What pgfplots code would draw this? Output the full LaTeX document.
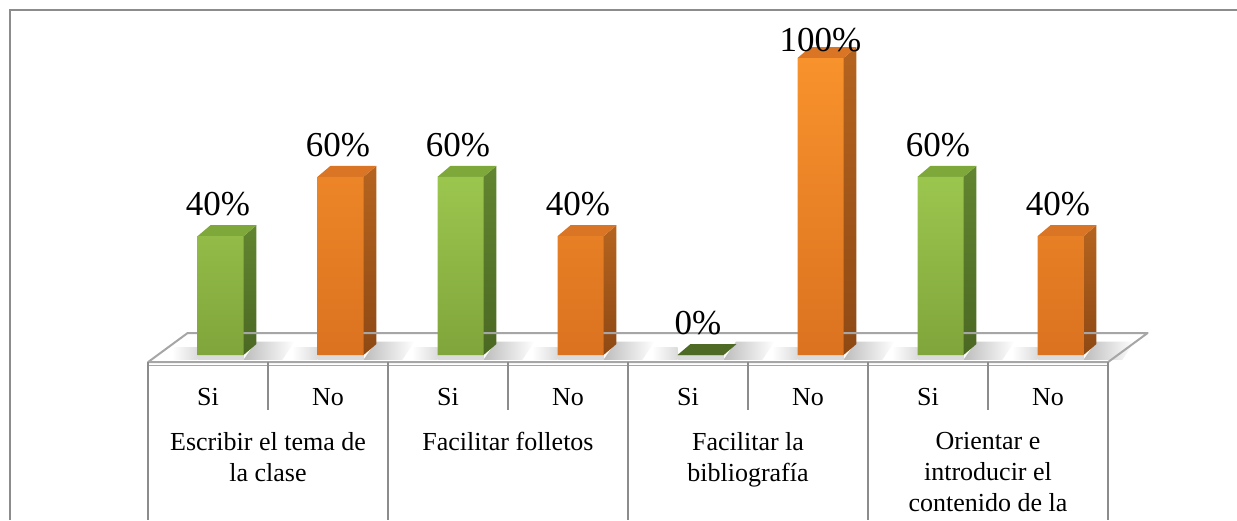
\documentclass[border=0pt]{standalone}
\usepackage{fontspec}
\setmainfont{Liberation Serif}
\usepackage{pgfplots}
\pgfplotsset{compat=1.18}

\definecolor{siFront}{HTML}{9BC64E}
\definecolor{siFrontB}{HTML}{80A53B}
\definecolor{siSide}{HTML}{628530}
\definecolor{siSideB}{HTML}{4B6823}
\definecolor{siTop}{HTML}{7FA83B}
\definecolor{siFlat}{HTML}{4E6A25}
\definecolor{noFront}{HTML}{F8922C}
\definecolor{noFrontB}{HTML}{DB7220}
\definecolor{noSide}{HTML}{B5641F}
\definecolor{noSideB}{HTML}{8E4914}
\definecolor{noTop}{HTML}{D97524}
\definecolor{frameGray}{HTML}{8C8C8C}
\definecolor{floorGray}{HTML}{A6A6A6}

% side, top and floor shadow of one bar: #1 x, #2 value, #3/#4 side colours, #5 top colour
\newcommand\barsides[5]{%
  \pgfmathsetmacro\xa{#1+0.296}%
  \pgfmathsetmacro\xb{#1+0.404}%
  \pgfmathsetmacro\xc{#1-0.0875}%
  \pgfmathsetmacro\xd{#1+0.0205}%
  \pgfmathsetmacro\xe{#1+0.62}%
  \pgfmathsetmacro\xg{#1+0.72}%
  \pgfmathsetmacro\xh{#1+0.40}%
  \pgfmathsetmacro\xf{#1-0.30}%
  \pgfmathsetmacro\ya{#2+3.7}%
  \addplot[draw=none, left color=black!26, right color=white] coordinates {(\xa,-1.6) (\xe,-1.6) (\xg,4.5) (\xh,4.5)} -- cycle;
  \addplot[draw=none, fill=black!14] coordinates {(\xc,-1.6) (\xa,-1.6) (\xa,0) (\xc,0)} -- cycle;
  \addplot[draw=none, left color=white, right color=black!14] coordinates {(\xf,-1.6) (\xc,-1.6) (\xc,2.5) (\xf,2.5)} -- cycle;
  \addplot[draw=none, top color=#3, bottom color=#4] coordinates {(\xa,0) (\xb,3.7) (\xb,\ya) (\xa,#2)} -- cycle;
  \addplot[draw=none, fill=#5] coordinates {(\xc,#2) (\xa,#2) (\xb,\ya) (\xd,\ya)} -- cycle;
}

\begin{document}
\begin{tikzpicture}[x=1pt, y=1pt]
  \useasboundingbox (0,0) rectangle (1237,-520);
  % chart frame (cut at right and bottom)
  \draw[frameGray, line width=2pt] (10,-520) -- (10,-10) -- (1237,-10);

  \begin{axis}[
    at={(148pt,-355pt)}, anchor=south west,
    scale only axis, width=960pt, height=297pt,
    xmin=-0.5, xmax=7.5, ymin=0, ymax=100,
    clip=false,
    axis line style={draw=none}, tick style={draw=none},
    ytick=\empty,
    xtick={0,...,7},
    xticklabels={Si,No,Si,No,Si,No,Si,No},
    xticklabel style={font=\fontsize{26}{31}\selectfont, anchor=base, yshift=-50pt},
    /pgf/number format/assume math mode=true,
    visualization depends on={y \as \rawy},
    every node near coord/.append style={font=\fontsize{35}{40}\selectfont,
      text=black, inner sep=0pt,
      xshift={ifthenelse(\rawy>99,12.5,10)},
      yshift={ifthenelse(\rawy>99,6,20)}},
  ]
    % floor
    \fill[white] (axis cs:-0.5,-2.4) -- (axis cs:7.5,-2.4) -- (axis cs:7.83,7.4) -- (axis cs:-0.17,7.4) -- cycle;

    % depth of the bars and their shadows
    \barsides{0}{40}{siSide}{siSideB}{siTop}
    \barsides{1}{60}{noSide}{noSideB}{noTop}
    \barsides{2}{60}{siSide}{siSideB}{siTop}
    \barsides{3}{40}{noSide}{noSideB}{noTop}
    \barsides{4}{0}{siSide}{siSideB}{siFlat}
    \barsides{5}{100}{noSide}{noSideB}{noTop}
    \barsides{6}{60}{siSide}{siSideB}{siTop}
    \barsides{7}{40}{noSide}{noSideB}{noTop}

    \draw[floorGray, line width=2pt, line join=round] (axis cs:-0.5,-2.4) -- (axis cs:7.5,-2.4) -- (axis cs:7.83,7.4) -- (axis cs:-0.17,7.4) -- cycle;
    \draw[floorGray, line width=1pt] (axis cs:-0.5,-3.4) -- (axis cs:7.5,-3.4);

    % table under the floor
    \pgfplotsinvokeforeach{-0.5,1.5,3.5,5.5,7.5}{
      \draw[frameGray, line width=1.5pt] (axis cs:#1,-2.4) -- (axis cs:#1,-55.7);
    }
    \pgfplotsinvokeforeach{0.5,2.5,4.5,6.5}{
      \draw[frameGray, line width=1.5pt] (axis cs:#1,-2.4) -- (axis cs:#1,-18.5);
    }

    % Si
    \addplot[ybar, bar width=46pt, bar shift=12.5pt, draw=none,
      top color=siFront, bottom color=siFrontB,
      nodes near coords={\pgfmathprintnumber{\pgfplotspointmeta}\%}]
      coordinates {(0,40) (2,60) (4,0) (6,60)};
    % No
    \addplot[ybar, bar width=46pt, bar shift=12.5pt, draw=none,
      top color=noFront, bottom color=noFrontB,
      nodes near coords={\pgfmathprintnumber{\pgfplotspointmeta}\%}]
      coordinates {(1,60) (3,40) (5,100) (7,40)};

    % group labels
    \begin{scope}[every node/.style={anchor=north, inner sep=0pt, align=center,
        font=\fontsize{26}{31}\selectfont, yshift=-77pt}]
      \node at (axis cs:0.5,0) {Escribir el tema de\\la clase};
      \node at (axis cs:2.5,0) {Facilitar folletos};
      \node at (axis cs:4.5,0) {Facilitar la\\bibliografía};
      \node at (axis cs:6.5,0) {Orientar e\\introducir el\\contenido de la};
    \end{scope}
  \end{axis}
\end{tikzpicture}
\end{document}
